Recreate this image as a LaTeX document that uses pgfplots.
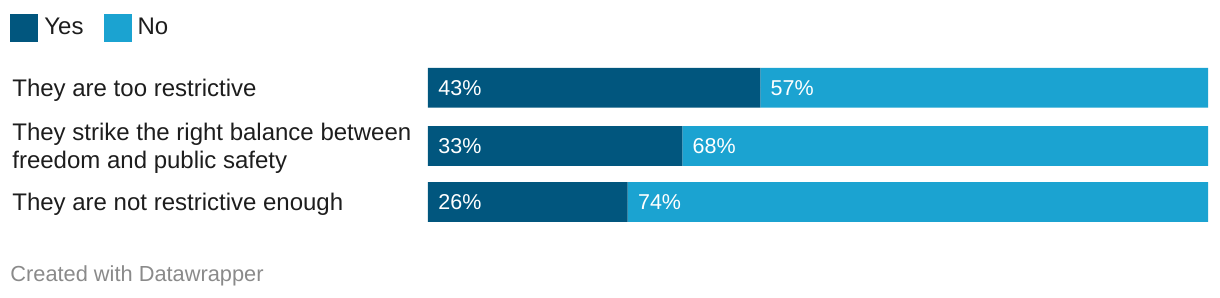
\documentclass[border=0pt]{standalone}
\usepackage{pgfplots}
\pgfplotsset{compat=1.18}
\usepackage{fontspec}
\setmainfont{Liberation Sans}
\definecolor{yesc}{HTML}{01567E}
\definecolor{noc}{HTML}{1BA3D1}
\definecolor{txt}{HTML}{1D1D1D}
\definecolor{foot}{HTML}{8A8A8A}
\pgfplotsset{base/.style={at={(214pt,0pt)}, anchor=south west, scale only axis,
  width=390pt, height=149pt, xmin=0, xmax=100, ymin=-298, ymax=0,
  axis line style={draw=none}, major tick length=0pt, xtick=\empty, clip=false}}
\begin{document}
\begin{tikzpicture}
\path[use as bounding box] (0,0) rectangle (610pt,149pt);
\begin{axis}[base, xbar stacked, bar width=19.85pt,
  ytick={-87.8,-146,-202},
  yticklabels={They are too restrictive, {They strike the right balance between\\freedom and public safety}, They are not restrictive enough},
  yticklabel style={anchor=west, xshift=-208pt, yshift=-1.2pt, align=left, inner sep=0pt, font=\fontsize{12}{14}\selectfont, text=txt},
  legend style={at={(axis description cs:-0.5359,0.906)}, anchor=west, draw=none, fill=none, inner sep=0pt,
    nodes={inner sep=3pt, text=txt, font=\fontsize{12}{14}\selectfont},
    /tikz/every even column/.append style={column sep=7pt}},
  legend columns=2,
  legend image code/.code={\fill[#1,draw=none] (0pt,-7pt) rectangle (14pt,7pt);}]
\addplot[fill=yesc, draw=none] coordinates {(42.6,-87.8) (32.6,-146) (25.6,-202)};
\addplot[fill=noc, draw=none] coordinates {(57.4,-87.8) (67.4,-146) (74.4,-202)};
\legend{Yes, No}
\end{axis}
\begin{axis}[base, ytick=\empty]
\addplot[only marks, mark=*, mark size=0pt, mark options={draw=none, fill=none},
  nodes near coords, point meta=explicit symbolic,
  every node near coord/.style={anchor=west, inner sep=0pt, xshift=5pt, text=white, font=\fontsize{10.75}{12}\selectfont}]
  coordinates {(0,-87.8) [43\%] (42.6,-87.8) [57\%] (0,-146) [33\%] (32.6,-146) [68\%] (0,-202) [26\%] (25.6,-202) [74\%]};
\end{axis}
\node[anchor=west, inner sep=0pt, text=foot, font=\fontsize{10.9}{12}\selectfont] at (5pt,11pt) {Created with Datawrapper};
\end{tikzpicture}
\end{document}
